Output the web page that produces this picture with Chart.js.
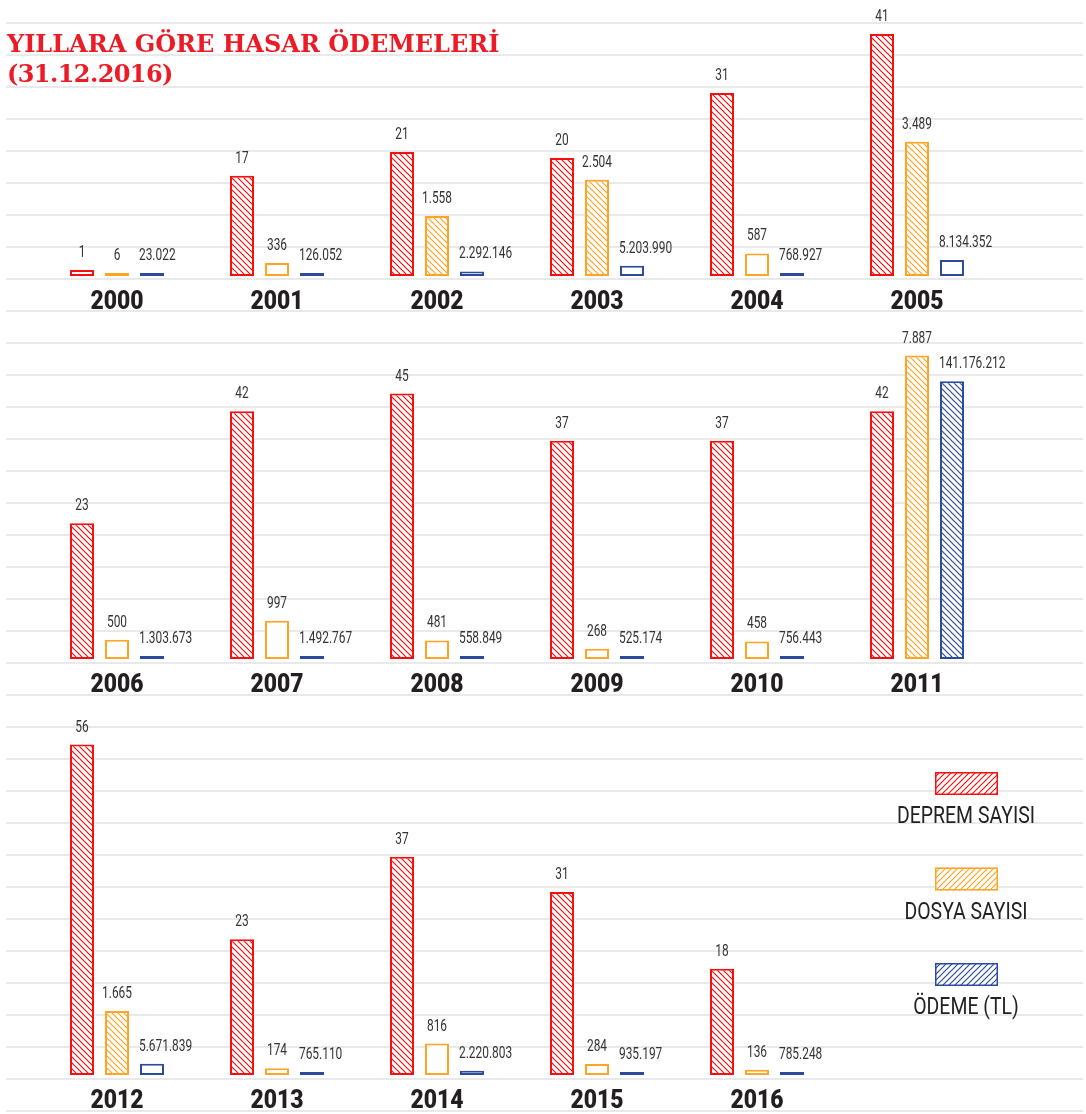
<!DOCTYPE html>
<html lang="tr">
<head>
<meta charset="utf-8">
<title>Yıllara Göre Hasar Ödemeleri</title>
<script src="https://cdn.jsdelivr.net/npm/chart.js@4.4.1/dist/chart.umd.min.js"></script>
<style>
    html, body { margin: 0; padding: 0; background: #fff; }
    body { width: 1086px; height: 1114px; position: relative; overflow: hidden; }
    #cizgiler {
        position: absolute; left: 6px; top: 22px; width: 1077px; height: 1092px;
        background: repeating-linear-gradient(to bottom, #e9e9e9 0, #e9e9e9 2px, transparent 2px, transparent 32px);
    }
    canvas.satir { position: absolute; left: 0; }
    #satir1 { top: -102px; }
    #satir2 { top: 281px; }
    #satir3 { top: 697px; }
    #baslik {
        position: absolute; left: 7px; top: 29px; z-index: 5;
        font: bold 24px "DejaVu Serif", serif; line-height: 30px; color: #ec1c26;
    }
    #baslik span { letter-spacing: -0.6px; }
    #lejant { position: absolute; left: 880px; top: 760px; }
</style>
</head>
<body>
<div id="cizgiler"></div>
<div id="baslik">YILLARA GÖRE HASAR ÖDEMELERİ<br><span>(31.12.2016)</span></div>
<canvas id="satir1" class="satir" width="1086" height="418"></canvas>
<canvas id="satir2" class="satir" width="1086" height="418"></canvas>
<canvas id="satir3" class="satir" width="1086" height="418"></canvas>
<canvas id="lejant" width="206" height="280"></canvas>
<script>
// veriler
const yillar1 = ['2000', '2001', '2002', '2003', '2004', '2005'];
const yillar2 = ['2006', '2007', '2008', '2009', '2010', '2011'];
const yillar3 = ['2012', '2013', '2014', '2015', '2016', ''];

const depremSayisi1 = [1, 17, 21, 20, 31, 41];
const depremSayisi2 = [23, 42, 45, 37, 37, 42];
const depremSayisi3 = [56, 23, 37, 31, 18, null];

const dosyaSayisi1 = [6, 336, 1558, 2504, 587, 3489];
const dosyaSayisi2 = [500, 997, 481, 268, 458, 7887];
const dosyaSayisi3 = [1665, 174, 816, 284, 136, null];

const odeme1 = [23022, 126052, 2292146, 5203990, 768927, 8134352];
const odeme2 = [1303673, 1492767, 558849, 525174, 756443, 141176212];
const odeme3 = [5671839, 765110, 2220803, 935197, 785248, null];

const seriAdlari = ['DEPREM SAYISI', 'DOSYA SAYISI', 'ÖDEME (TL)'];
const renkler = ['#f70f0f', '#ffa424', '#2c4b9e'];

function formatla(v) {
    return String(v).replace(/\B(?=(\d{3})+(?!\d))/g, '.');
}

// çapraz tarama deseni
function tarama(renk, ters) {
    const c = document.createElement('canvas');
    c.width = c.height = 6;
    const g = c.getContext('2d');
    g.fillStyle = '#fff';
    g.fillRect(0, 0, 6, 6);
    g.strokeStyle = renk;
    g.lineWidth = 1.2;
    g.beginPath();
    if (!ters) {
        g.moveTo(-1, -1); g.lineTo(7, 7);
        g.moveTo(5, -1); g.lineTo(7, 1);
        g.moveTo(-1, 5); g.lineTo(1, 7);
    } else {
        g.moveTo(-1, 7); g.lineTo(7, -1);
        g.moveTo(-1, 1); g.lineTo(1, -1);
        g.moveTo(5, 7); g.lineTo(7, 5);
    }
    g.stroke();
    return g.createPattern(c, 'repeat');
}

const desenler = renkler.map(r => tarama(r, false));
const eksenler = ['yD', 'yF', 'yO'];

// kısa çubuklar boş kutu gibi çizilir
function dolgu(i) {
    return (ctx) => {
        const v = ctx.raw;
        if (v == null) return '#fff';
        const s = ctx.chart.scales[eksenler[i]];
        if (!s) return desenler[i];
        const h = s.getPixelForValue(0) - s.getPixelForValue(v);
        return h > 45 ? desenler[i] : '#fff';
    };
}

const etiketEklentisi = {
    id: 'etiketler',
    afterDatasetsDraw(chart) {
        const ctx = chart.ctx;
        ctx.save();
        chart.data.datasets.forEach((ds, i) => {
            const meta = chart.getDatasetMeta(i);
            meta.data.forEach((bar, j) => {
                const v = ds.data[j];
                if (v == null) return;
                const sol = i === 2;
                const x = sol ? bar.x - bar.width / 2 - 1 : bar.x;
                ctx.save();
                ctx.translate(x, bar.y - 13);
                ctx.scale(0.7, 1);
                ctx.font = '17px Roboto';
                ctx.fillStyle = '#333';
                ctx.textBaseline = 'alphabetic';
                ctx.textAlign = sol ? 'left' : 'center';
                ctx.fillText(formatla(v), 0, 0);
                ctx.restore();
            });
        });
        const xs = chart.scales.x;
        const alt = chart.chartArea.bottom;
        chart.data.labels.forEach((yil, j) => {
            if (!yil) return;
            ctx.save();
            ctx.translate(xs.getPixelForValue(j), alt + 33);
            ctx.scale(0.88, 1);
            ctx.font = '900 26px Roboto';
            ctx.fillStyle = '#231f20';
            ctx.textAlign = 'center';
            ctx.textBaseline = 'alphabetic';
            ctx.fillText(yil, 0, 0);
            ctx.restore();
        });
        ctx.restore();
    }
};

function satirCiz(id, yillar, deprem, dosya, odeme) {
    const veriler = [deprem, dosya, odeme];
    return new Chart(document.getElementById(id), {
        type: 'bar',
        data: {
            labels: yillar,
            datasets: veriler.map((d, i) => ({
                label: seriAdlari[i],
                data: d,
                yAxisID: eksenler[i],
                backgroundColor: dolgu(i),
                borderColor: renkler[i],
                borderWidth: 2,
                borderSkipped: false,
                minBarLength: 3,
                categoryPercentage: 0.656,
                barPercentage: 0.686
            }))
        },
        options: {
            responsive: false,
            animation: false,
            layout: { padding: { left: 37, right: 89, top: 24, bottom: 40 } },
            plugins: { legend: { display: false }, tooltip: { enabled: false } },
            scales: {
                x: { display: false },
                yD: { display: false, min: 0, max: 60 },
                yF: { display: false, min: 0, max: 9200 },
                yO: { display: false, min: 0, max: 180000000 }
            }
        },
        plugins: [etiketEklentisi]
    });
}

satirCiz('satir1', yillar1, depremSayisi1, dosyaSayisi1, odeme1);
satirCiz('satir2', yillar2, depremSayisi2, dosyaSayisi2, odeme2);
satirCiz('satir3', yillar3, depremSayisi3, dosyaSayisi3, odeme3);

// lejant
(function () {
    const g = document.getElementById('lejant').getContext('2d');
    seriAdlari.forEach((ad, i) => {
        const y = 12 + i * 95.5;
        g.fillStyle = tarama(renkler[i], true);
        g.fillRect(55, y, 63, 23);
        g.strokeStyle = renkler[i];
        g.lineWidth = 1.5;
        g.strokeRect(55.75, y + 0.75, 61.5, 21.5);
        g.save();
        g.translate(86, y + 51);
        g.scale(0.81, 1);
        g.font = '24px Roboto';
        g.fillStyle = '#222';
        g.textAlign = 'center';
        g.fillText(ad, 0, 0);
        g.restore();
    });
})();
</script>
</body>
</html>
